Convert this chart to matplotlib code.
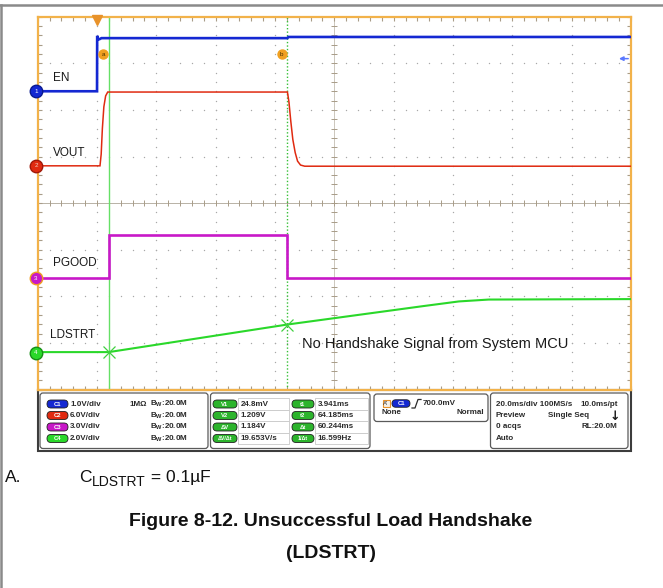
import matplotlib.pyplot as plt
import numpy as np
from matplotlib.patches import FancyBboxPatch, Rectangle

plt.rcParams['font.family'] = ['Liberation Sans', 'DejaVu Sans']

# horizontal: 20 ms/div, trigger one division in from the left
t_div = 20.0
t_start = -20.0
n_xdiv, n_ydiv = 10, 8

# channel setup
names = ['EN', 'VOUT', 'PGOOD', 'LDSTRT']
volts_div = [1.0, 6.0, 3.0, 2.0]
ground_div = [6.40, 4.80, 2.39, 0.79]
colors = ['#1428d2', '#e02a10', '#c818c8', '#2ad82a']
marker_edge = ['#0a1a90', '#a01808', '#f0a020', '#169016']
widths = [1.9, 1.1, 1.9, 1.5]

# cursor readout
t1, t2 = 3.941, 64.185
v1, v2 = 0.0248, 1.209
trig_level = 0.700

# waveforms (ms, V)
en_t = [-20, 0.0, 0.05, 0.4, 0.9, 1.5, 64.185, 64.5, 180]
en_v = [0.0, 0.0, 1.19, 1.11, 1.12, 1.14, 1.14, 1.165, 1.165]

vout_t = [-20, 1.0, 1.4, 1.8, 2.3, 2.9, 3.6, 64.185, 64.7, 65.3, 66.0, 66.8, 67.6, 68.6, 70.0, 180]
vout_v = [0.0, 0.0, 1.5, 4.8, 7.6, 9.0, 9.5, 9.5, 8.2, 5.8, 3.4, 1.7, 0.6, 0.1, -0.05, -0.05]

pg_t = [-20, t1, t1, t2, t2, 180]
pg_v = [0.0, 0.0, 2.75, 2.75, 0.03, 0.03]

ld_t = [-20, t1, t2, 110, 122, 132, 180]
ld_v = [v1, v1, v2, 2.0, 2.2, 2.28, 2.30]

traces = [(en_t, en_v), (vout_t, vout_v), (pg_t, pg_v), (ld_t, ld_v)]

# readout panel text
ch_scale = ['1.0V/div', '6.0V/div', '3.0V/div', '2.0V/div']
v_labels = ['V1', 'V2', 'ΔV', 'ΔV/Δt']
v_values = ['24.8mV', '1.209V', '1.184V', '19.653V/s']
t_labels = ['t1', 't2', 'Δt', '1/Δt']
t_values = ['3.941ms', '64.185ms', '60.244ms', '16.599Hz']

W, H = 663, 588
fig = plt.figure(figsize=(W / 100, H / 100), dpi=100)

# page layer in pixel units
ov = fig.add_axes([0, 0, 1, 1], zorder=0)
ov.set_xlim(0, W)
ov.set_ylim(H, 0)
ov.axis('off')

gl, gr, gt, gb = 37.7, 631.0, 16.7, 389.5
ax = fig.add_axes([gl / W, 1 - gb / H, (gr - gl) / W, (gb - gt) / H], zorder=2)
t_end = t_start + n_xdiv * t_div
ax.set_xlim(t_start, t_end)
ax.set_ylim(0, n_ydiv)
ax.patch.set_alpha(0)
for s in ax.spines.values():
    s.set_color('#f2b24a')
    s.set_linewidth(1.6)
ax.set_xticks(np.arange(t_start, t_end + 0.1, t_div / 5))
ax.set_yticks(np.arange(0, n_ydiv + 0.01, 0.2))
ax.tick_params(direction='in', length=3, width=0.8, color='#a89c88',
               top=True, right=True, labelbottom=False, labelleft=False)

# dotted graticule
gx = np.arange(t_start, t_end + 0.1, t_div / 5)
gy = np.arange(0, n_ydiv + 0.01, 0.2)
for k in range(1, n_xdiv):
    xx = t_start + k * t_div
    ax.scatter(np.full(gy.size, xx), gy, s=1.0, color='#a8a8a8', linewidths=0, zorder=1)
for k in range(1, n_ydiv):
    ax.scatter(gx, np.full(gx.size, k), s=1.0, color='#a8a8a8', linewidths=0, zorder=1)

# center cross with ticks
xc = t_start + n_xdiv / 2 * t_div
ax.axhline(n_ydiv / 2, color='#b8b2a6', lw=0.7, zorder=1)
ax.axvline(xc, color='#c4beb2', lw=0.6, zorder=1)
ax.scatter(gx, np.full(gx.size, n_ydiv / 2), marker='|', s=14, color='#a89c88', linewidths=0.7, zorder=1)
ax.scatter(np.full(gy.size, xc), gy, marker='_', s=14, color='#a89c88', linewidths=0.7, zorder=1)

# cursors
ax.axvline(t1, color='#66e066', lw=1.0, zorder=2)
ax.axvline(t2, color='#36c036', lw=1.0, ls=(0, (1, 1.5)), zorder=2)
for tc, lab in [(t1, 'a'), (t2, 'b')]:
    ax.plot(tc - 1.9, 7.19, 'o', ms=6.5, color='#f0a020', zorder=6)
    ax.text(tc - 1.9, 7.19, lab, fontsize=4.5, ha='center', va='center', color='#4a3000', zorder=7)

# traces
for i, (tt, vv) in enumerate(traces):
    y = ground_div[i] + np.array(vv) / volts_div[i]
    ax.plot(tt, y, color=colors[i], lw=widths[i], zorder=4, solid_joinstyle='miter')
    ax.plot(t_start - 0.6, ground_div[i], 'o', ms=9, mfc=colors[i], mec=marker_edge[i],
            mew=1.0, clip_on=False, zorder=8)
    ax.text(t_start - 0.6, ground_div[i], str(i + 1), fontsize=4.5, ha='center', va='center',
            color='white' if i != 1 else '#f0d0c0', zorder=9, clip_on=False)

# cursor crosses on LDSTRT
ax.plot([t1, t2], [ground_div[3] + v1 / volts_div[3], ground_div[3] + v2 / volts_div[3]],
        'x', ms=9, mew=0.9, color='#40d040', zorder=5)

# trigger position and level
ax.plot(0, 7.93, 'v', ms=7, color='#e8922a', clip_on=False, zorder=9)
lvl = ground_div[0] + trig_level / volts_div[0]
ax.annotate('', xy=(175.0, lvl), xytext=(t_end, lvl),
            arrowprops=dict(arrowstyle='-|>', color='#5a78ff', lw=1.1, mutation_scale=6))

# trace labels
label_pos = [(-15.0, 6.69), (-15.0, 5.07), (-15.0, 2.72), (-15.7, 1.17)]
for (lx, ly), nm in zip(label_pos, names):
    ax.text(lx, ly, nm, fontsize=8.5, va='center', ha='left', color='#1a1a1a', zorder=6)
ax.text(69.0, 0.975, 'No Handshake Signal from System MCU', fontsize=10.5,
        va='center', ha='left', color='#1a1a1a', zorder=6)

# page frame
ov.plot([0, W], [5, 5], color='#8a8a8a', lw=1.8)
ov.plot([1, 1], [5, H], color='#8a8a8a', lw=1.8)


def rbox(x0, y0, x1, y1, ec='#5a5a5a', fc='white', lw=0.9, r=3.0, z=2):
    p = FancyBboxPatch((x0, y0), x1 - x0, y1 - y0, boxstyle=f'round,pad=0,rounding_size={r}',
                       ec=ec, fc=fc, lw=lw, zorder=z)
    ov.add_patch(p)


def pill(xm, ym, w, h, color, label, fs=4.2):
    rbox(xm - w / 2, ym - h / 2, xm + w / 2, ym + h / 2, ec='#202020', fc=color, lw=0.6,
         r=h / 2, z=4)
    ov.text(xm, ym + 0.3, label, fontsize=fs, ha='center', va='center', color='white',
            weight='bold', zorder=5)


pt = dict(fontsize=5.8, weight='bold', color='#2a2a2a', va='center', zorder=5)

# readout panel
ov.add_patch(Rectangle((37.5, 390), 593.5, 60.5, ec='#3c3c3c', fc='white', lw=1.5, zorder=1))
rows = [404, 415.5, 427, 438.5]

rbox(40, 393, 208, 448.5)
for i, y in enumerate(rows):
    pill(57.5, y, 21, 8, colors[i], 'C%d' % (i + 1))
    ov.text(70, y, ch_scale[i], **pt)
    ov.text(150, y, r'B$_\mathregular{W}$:20.0M', **pt)
ov.text(146.5, rows[0], '1MΩ', ha='right', **pt)

rbox(210.5, 393, 370, 448.5)
for i, y in enumerate(rows):
    ov.add_patch(Rectangle((238, y - 5.7), 51, 11.5, ec='#c8c8c8', fc='white', lw=0.6, zorder=3))
    ov.add_patch(Rectangle((315, y - 5.7), 53, 11.5, ec='#c8c8c8', fc='white', lw=0.6, zorder=3))
    pill(225, y, 24, 8, '#2cb42c', v_labels[i], fs=3.8 if i == 3 else 4.2)
    pill(303, y, 22, 8, '#2cb42c', t_labels[i], fs=3.8 if i == 3 else 4.2)
    ov.text(240.5, y, v_values[i], **pt)
    ov.text(317.5, y, t_values[i], **pt)

rbox(374, 394, 488, 421.5)
ov.add_patch(Rectangle((382.5, 399.5), 7, 7.5, ec='#e8922a', fc='#f4f0e8', lw=0.8, zorder=4))
ov.text(386, 403.5, "A'", fontsize=4.3, ha='center', va='center', color='#2a2a2a', zorder=5)
pill(401, 403.5, 18, 7.5, colors[0], 'C1')
ov.plot([412, 415, 418, 421], [408, 408, 399.5, 399.5], color='#2a2a2a', lw=0.9, zorder=5)
ov.text(423, 403.5, '700.0mV', **pt)
ov.text(381, 413, 'None', **pt)
ov.text(484, 413, 'Normal', ha='right', **pt)

rbox(490.5, 393, 628, 448.5)
ov.text(496, rows[0], '20.0ms/div 100MS/s', **pt)
ov.text(618, rows[0], '10.0ms/pt', ha='right', **pt)
ov.text(496, rows[1], 'Preview', **pt)
ov.text(548, rows[1], 'Single Seq', **pt)
ov.text(615, rows[1] + 1, '↓', fontsize=9, weight='bold', ha='center', va='center',
        color='#1a1a1a', family=['DejaVu Sans'], zorder=5)
ov.text(617, rows[2], 'RL:20.0M', ha='right', **pt)
ov.text(496, rows[2], '0 acqs', **pt)
ov.text(496, rows[3], 'Auto', **pt)

# caption: note line with subscript laid out by hand
ov.text(5, 482, 'A.', fontsize=12.5, va='baseline', color='#111111')
ov.text(79, 482, 'C', fontsize=12.5, va='baseline', color='#111111')
ov.text(91.5, 485.5, 'LDSTRT', fontsize=10, va='baseline', color='#111111')
ov.text(146, 482, ' = 0.1µF', fontsize=12.5, va='baseline', color='#111111')
ov.text(331, 521, 'Figure 8-12. Unsuccessful Load Handshake', fontsize=14, weight='bold',
        ha='center', va='center', color='#111111')
ov.text(331, 553, '(LDSTRT)', fontsize=14, weight='bold', ha='center', va='center',
        color='#111111')

fig.savefig('out.png', dpi=100)
